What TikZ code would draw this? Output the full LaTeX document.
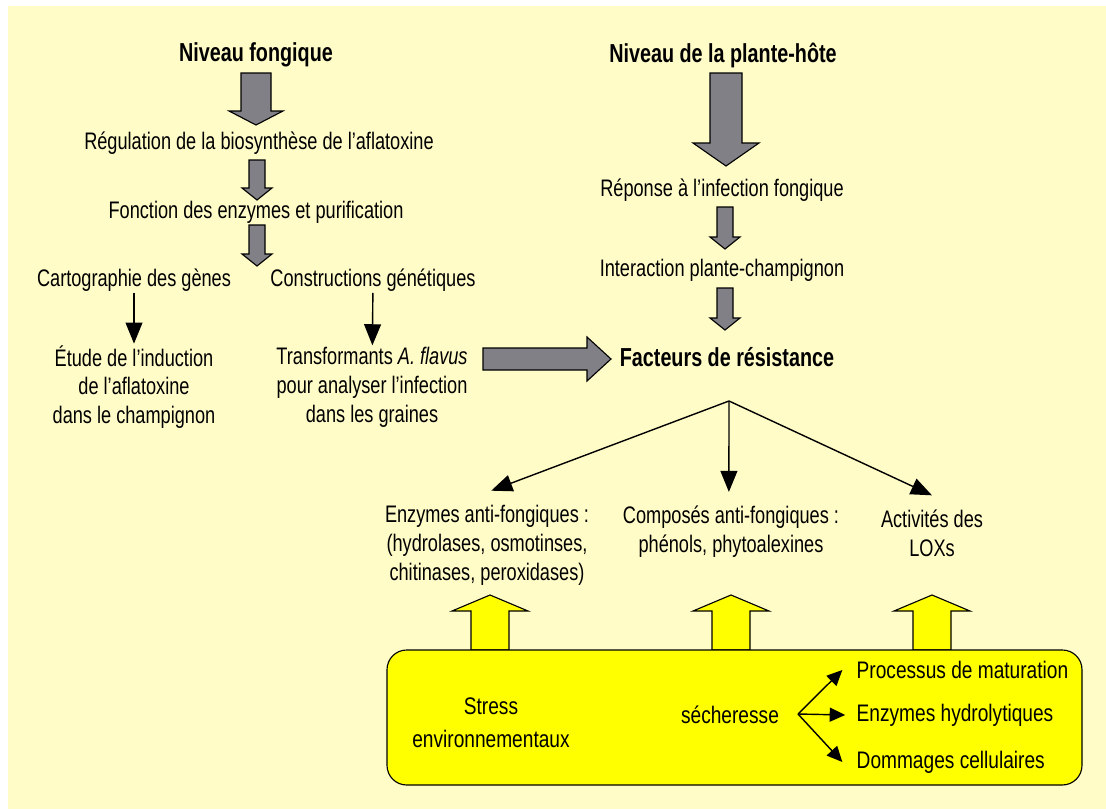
\documentclass[tikz,border=0pt]{standalone}
\usepackage{fontspec}
\setmainfont{Liberation Sans}[FakeStretch=0.76]
\newfontfamily\boxfont{Liberation Sans}[FakeStretch=0.8]
\usepackage{tikz}
\usetikzlibrary{arrows.meta, positioning}

\definecolor{cream}{RGB}{255,252,200}
\definecolor{arrowgray}{RGB}{128,128,134}
\definecolor{boxyellow}{RGB}{255,255,0}

% block arrow: style, x, y start, y tip, shaft half width, head half width, head length
\newcommand{\blockarrow}[7]{%
  \draw[#1] ({#2-#5},#3) -- ({#2+#5},#3) -- ({#2+#5},{#4-#7}) -- ({#2+#6},{#4-#7})
    -- (#2,#4) -- ({#2-#6},{#4-#7}) -- ({#2-#5},{#4-#7}) -- cycle;}

\tikzset{
  txt/.style={align=center, inner sep=1pt, font=\fontsize{17}{20.5}\selectfont},
  boxtxt/.style={txt, font=\boxfont\fontsize{17}{20.5}\selectfont},
  title/.style={txt, font=\fontsize{18.5}{22}\selectfont\bfseries},
  thinarrow/.style={-{Triangle[length=15pt,width=12pt]}, line width=1pt},
  smallarrow/.style={-{Triangle[length=11pt,width=10pt]}, line width=1pt},
  grayblock/.style={fill=arrowgray, draw=black, line width=0.8pt},
  yellowblock/.style={fill=boxyellow, draw=black, line width=0.8pt},
}

\begin{document}
\begin{tikzpicture}[x=0.025cm, y=-0.025cm]

    % Background
    \useasboundingbox (0,0) rectangle (1106,809);
    \fill[white] (0,0) rectangle (1106,809);
    \fill[cream] (8,6) rectangle (1106,809);

    % Fungal level
    \node[title] (fong) at (256,55) {Niveau fongique};
    \node[txt] (regul) at (259,143) {Régulation de la biosynthèse de l’aflatoxine};
    \node[txt] (fonct) at (256,212) {Fonction des enzymes et purification};
    \node[txt] (carto) at (134,280) {Cartographie des gènes};
    \node[txt] (constr) at (373,280) {Constructions génétiques};
    \node[txt] (etude) at (134,387) {Étude de l’induction\\de l’aflatoxine\\dans le champignon};
    \node[txt] (transf) at (372,387) {Transformants \textit{A. flavus}\\pour analyser l’infection\\dans les graines};

    \blockarrow{grayblock}{256}{73}{125}{15}{27}{14}
    \blockarrow{grayblock}{257}{160}{200}{8}{15}{12}
    \blockarrow{grayblock}{257}{225}{266}{8}{15}{12}
    \draw[thinarrow] (carto) -- (etude);
    \draw[thinarrow] (constr) -- (transf);

    % Host plant level
    \node[title] (plante) at (723,55) {Niveau de la plante-hôte};
    \node[txt] (reponse) at (722,190) {Réponse à l’infection fongique};
    \node[txt] (interac) at (722,270) {Interaction plante-champignon};
    \node[title] (facteurs) at (727,357) {Facteurs de résistance};

    \blockarrow{grayblock}{726}{73}{166}{16}{33}{23}
    \blockarrow{grayblock}{725}{207}{249}{8}{15}{12}
    \blockarrow{grayblock}{725}{288}{330}{8}{15}{12}
    \draw[grayblock] (483,348) -- (587,348) -- (587,337) -- (611,359)
        -- (587,381) -- (587,370) -- (483,370) -- cycle;

    % Resistance factors
    \coordinate (apex) at (729,401);
    \node[txt] (enzymes) at (487,545) {Enzymes anti-fongiques :\\(hydrolases, osmotinses,\\chitinases, peroxidases)};
    \node[txt] (composes) at (731,532) {Composés anti-fongiques :\\phénols, phytoalexines};
    \node[txt] (lox) at (932,533) {Activités des\\LOXs};
    \draw[thinarrow] (apex) -- ([xshift=3pt,yshift=9pt]enzymes.north);
    \draw[thinarrow] (apex) -- ([xshift=-1.5pt,yshift=9pt]composes.north);
    \draw[thinarrow] (apex) -- ([yshift=9pt]lox.north);

    % Environmental stress box
    \blockarrow{yellowblock}{490}{650}{595}{19}{38}{-16}
    \blockarrow{yellowblock}{731}{650}{595}{19}{38}{-16}
    \blockarrow{yellowblock}{932}{650}{595}{19}{38}{-16}
    \draw[yellowblock, rounded corners=14pt] (387,650) rectangle (1082,785);

    \node[boxtxt] (stress) at (491,723) {Stress\\[3pt]environnementaux};
    \node[boxtxt] (sech) at (730,715) {sécheresse};
    \coordinate (fork) at (798,714);
    \node[boxtxt, anchor=west] (proc) at (855,670) {Processus de maturation};
    \node[boxtxt, anchor=west] (hydro) at (855,715) {Enzymes hydrolytiques};
    \node[boxtxt, anchor=west] (domm) at (855,762) {Dommages cellulaires};
    \draw[smallarrow] (fork) -- ([xshift=-9pt]proc.west);
    \draw[smallarrow] (fork) -- ([xshift=-7pt]hydro.west);
    \draw[smallarrow] (fork) -- ([xshift=-9pt]domm.west);

\end{tikzpicture}
\end{document}
